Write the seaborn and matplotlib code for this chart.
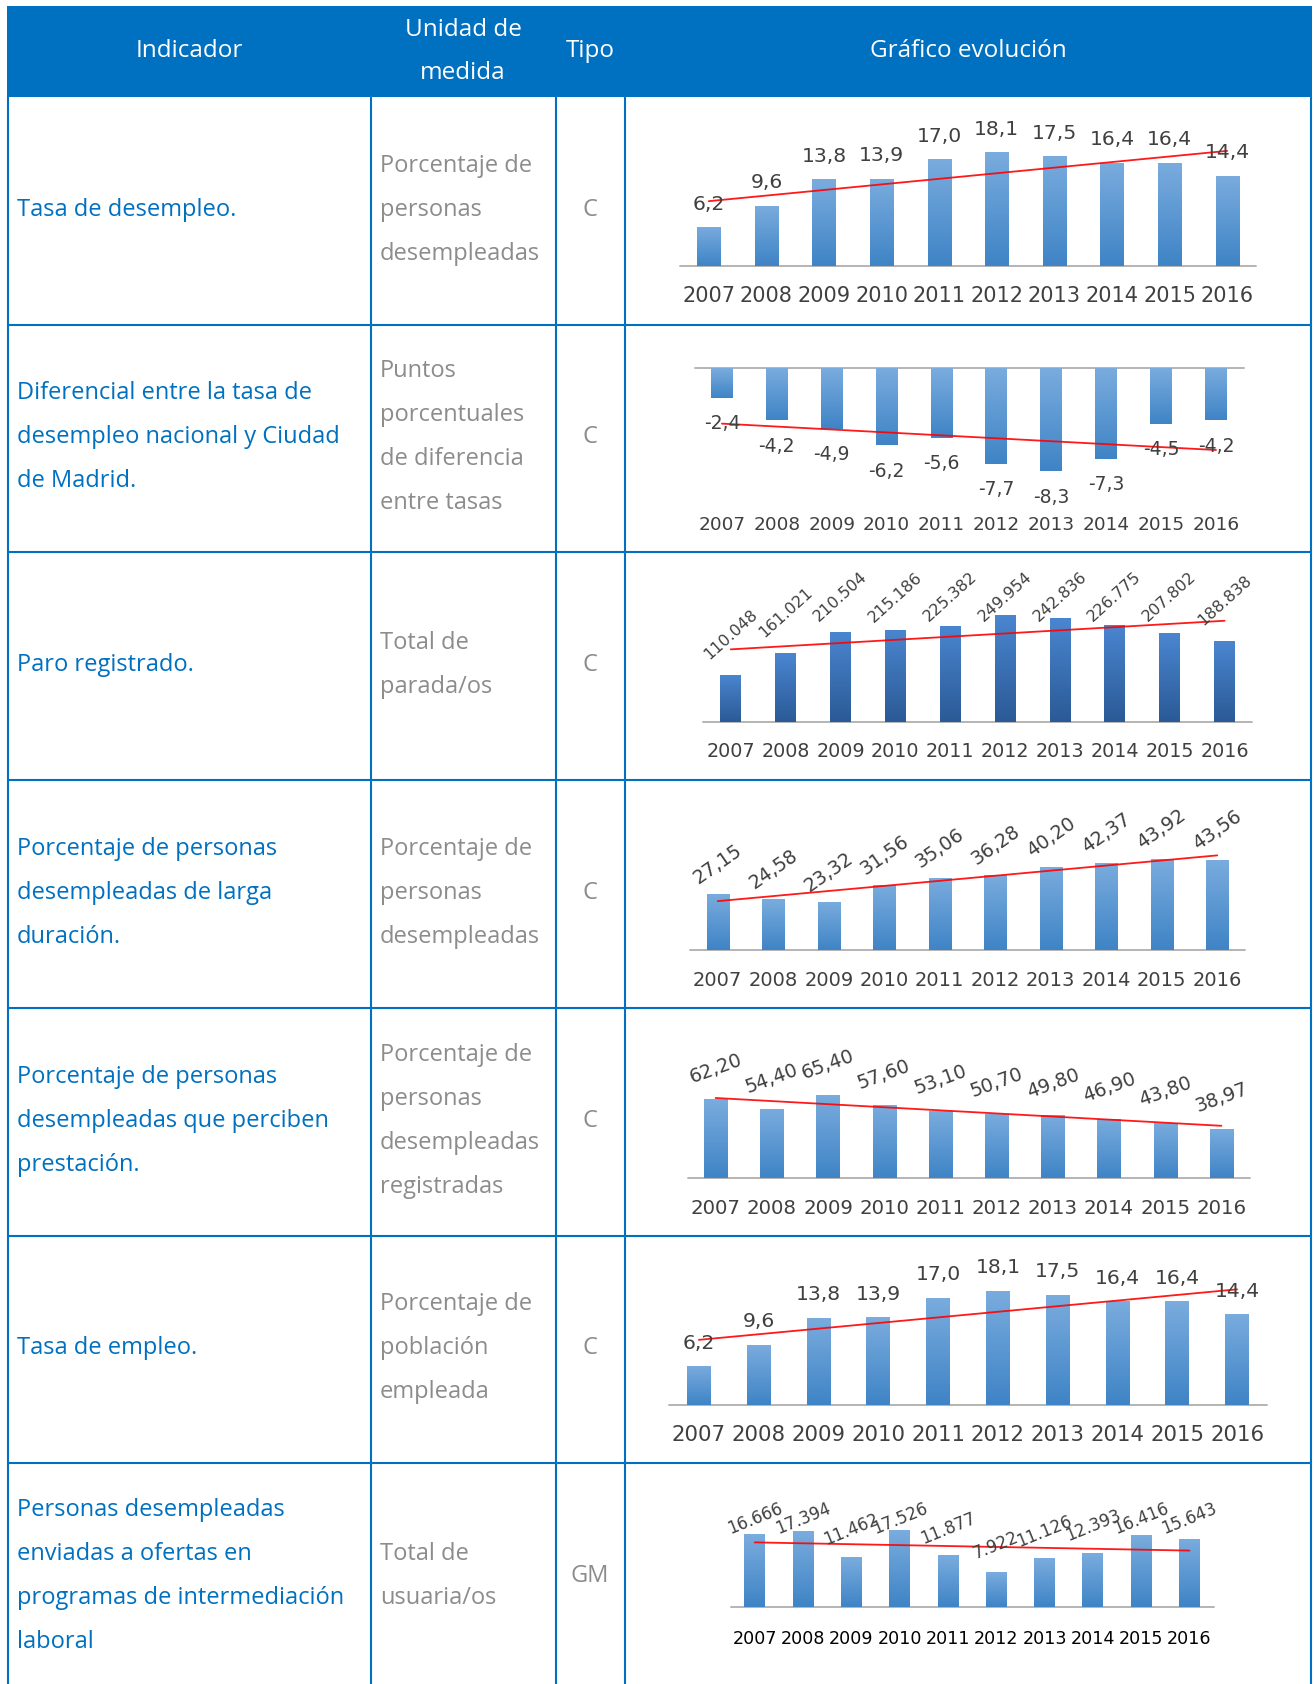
import numpy as np
import matplotlib
matplotlib.use("Agg")
import matplotlib.pyplot as plt
import seaborn as sns
from matplotlib.patches import Rectangle
from matplotlib.lines import Line2D

W, H = 1314, 1684

years = [2007, 2008, 2009, 2010, 2011, 2012, 2013, 2014, 2015, 2016]

tasa_desempleo = [6.2, 9.6, 13.8, 13.9, 17.0, 18.1, 17.5, 16.4, 16.4, 14.4]
diferencial = [-2.4, -4.2, -4.9, -6.2, -5.6, -7.7, -8.3, -7.3, -4.5, -4.2]
paro_registrado = [110048, 161021, 210504, 215186, 225382, 249954, 242836, 226775, 207802, 188838]
larga_duracion = [27.15, 24.58, 23.32, 31.56, 35.06, 36.28, 40.20, 42.37, 43.92, 43.56]
prestacion = [62.20, 54.40, 65.40, 57.60, 53.10, 50.70, 49.80, 46.90, 43.80, 38.97]
tasa_empleo = [6.2, 9.6, 13.8, 13.9, 17.0, 18.1, 17.5, 16.4, 16.4, 14.4]
enviadas = [16666, 17394, 11462, 17526, 11877, 7922, 11126, 12393, 16416, 15643]

header = ["Indicador", ["Unidad de", "medida"], "Tipo", "Gráfico evolución"]

indicadores = [
    ["Tasa de desempleo."],
    ["Diferencial entre la tasa de", "desempleo nacional y Ciudad", "de Madrid."],
    ["Paro registrado."],
    ["Porcentaje de personas", "desempleadas de larga", "duración."],
    ["Porcentaje de personas", "desempleadas que perciben", "prestación."],
    ["Tasa de empleo."],
    ["Personas desempleadas", "enviadas a ofertas en", "programas de intermediación", "laboral"],
]
unidades = [
    ["Porcentaje de", "personas", "desempleadas"],
    ["Puntos", "porcentuales", "de diferencia", "entre tasas"],
    ["Total de", "parada/os"],
    ["Porcentaje de", "personas", "desempleadas"],
    ["Porcentaje de", "personas", "desempleadas", "registradas"],
    ["Porcentaje de", "población", "empleada"],
    ["Total de", "usuaria/os"],
]
tipos = ["C", "C", "C", "C", "C", "C", "GM"]


def dec(nd):
    return lambda v: f"{v:.{nd}f}".replace(".", ",")


def miles(v):
    return f"{v:,}".replace(",", ".")


BLUE = "#0070c0"
GRAY = "#8c8c8c"
TXT = "#404040"
TFONT = ["Open Sans", "DejaVu Sans"]
LIGHT = ("#7aacde", "#3f84c6")
DARK = ("#4a86d0", "#2b5a96")

sns.set_style("white")
plt.rcParams["font.family"] = ["DejaVu Sans"]

fig = plt.figure(figsize=(W / 100, H / 100), dpi=100)


def fx(x):
    return x / W


def fy(y):
    return 1 - y / H


# ---- table frame ----
fig.patches.append(Rectangle((fx(6.5), fy(96.7)), fx(1311.5) - fx(6.5), fy(5.5) - fy(96.7),
                             transform=fig.transFigure, facecolor=BLUE, edgecolor="none"))
row_tops = [96.7, 324.5, 552.2, 780.0, 1007.8, 1235.6, 1463.3]
row_h = 227.8
for yt in row_tops[1:]:
    fig.add_artist(Line2D([fx(7.5), fx(1311)], [fy(yt), fy(yt)], color=BLUE, lw=1.5))
for xc in [7.5, 370.7, 555.5, 625.3, 1311]:
    fig.add_artist(Line2D([fx(xc), fx(xc)], [fy(96.7), fy(H)], color=BLUE, lw=1.5))

# header text
HFS = 17.5
fig.text(fx(189), fy(51), header[0], ha="center", va="center", color="white", fontsize=HFS, family=TFONT)
fig.text(fx(463), fy(30), header[1][0], ha="center", va="center", color="white", fontsize=HFS, family=TFONT)
fig.text(fx(463), fy(73), header[1][1], ha="center", va="center", color="white", fontsize=HFS, family=TFONT)
fig.text(fx(590), fy(51), header[2], ha="center", va="center", color="white", fontsize=HFS, family=TFONT)
fig.text(fx(968), fy(51), header[3], ha="center", va="center", color="white", fontsize=HFS, family=TFONT)

LS = 44
BFS = 17
for r, yt in enumerate(row_tops):
    yc = yt + row_h / 2 - 1
    for lines, x, col in [(indicadores[r], 17, BLUE), (unidades[r], 380, GRAY)]:
        n = len(lines)
        for i, s in enumerate(lines):
            fig.text(fx(x), fy(yc + (i - (n - 1) / 2) * LS), s, ha="left", va="center",
                     color=col, fontsize=BFS, family=TFONT)
    fig.text(fx(590), fy(yc), tipos[r], ha="center", va="center", color=GRAY, fontsize=BFS, family=TFONT)


# ---- mini charts ----
def mini_chart(values, fmt, x0, slot, base, scale, top, bottom, width, rot, off, cap,
               fs, year_fs, year_y, grad, year_color=TXT):
    n = len(values)
    ax = fig.add_axes([fx(x0), fy(bottom), n * slot / W, (bottom - top) / H])
    ax.set_facecolor("none")
    sns.barplot(x=years, y=values, color=grad[0], width=width, saturation=1, ax=ax)
    cols = np.linspace(matplotlib.colors.to_rgb(grad[0]), matplotlib.colors.to_rgb(grad[1]), 64)[:, None, :]
    for p in list(ax.patches):
        x, w = p.get_x(), p.get_width()
        y0, y1 = sorted([p.get_y(), p.get_y() + p.get_height()])
        im = ax.imshow(cols, extent=[x, x + w, y0, y1], aspect="auto", zorder=2)
        im.set_clip_path(p)
        p.set_facecolor("none")
        p.set_edgecolor("none")
    sns.regplot(x=np.arange(n), y=np.array(values, float), scatter=False, ci=None, truncate=True,
                color="red", line_kws={"lw": 1.3, "alpha": 0.9, "zorder": 3}, ax=ax)
    ax.axhline(0, color="#b4b4b4", lw=1.4, zorder=1, clip_on=False)
    for i, v in enumerate(values):
        yl = v + off / scale
        if cap is not None:
            yl = min(yl, (base - cap) / scale)
        ax.text(i, yl, fmt(v), ha="center", va="center", rotation=rot, rotation_mode="anchor",
                fontsize=fs, color=TXT, clip_on=False, zorder=4)
    ax.set_xlim(-0.5, n - 0.5)
    ax.set_ylim((base - bottom) / scale, (base - top) / scale)
    ax.set_yticks([])
    ax.set_xticks(range(n), [str(y) for y in years])
    pad_px = year_y - bottom - 0.4 * year_fs * 100 / 72
    ax.tick_params(axis="x", length=0, pad=pad_px * 72 / 100, labelsize=year_fs, labelcolor=year_color)
    ax.set(xlabel="", ylabel="")
    sns.despine(ax=ax, left=True, bottom=True)


mini_chart(tasa_desempleo, dec(1), 680, 57.6, 266.3, 6.3, 102, 266.3, 0.40, 0, 23, None, 14.7, 15, 294.7, LIGHT)
mini_chart(diferencial, dec(1), 694.5, 54.9, 367.7, 12.5, 367.7, 505, 0.40, 0, -26, None, 13.5, 13.3, 523.3, LIGHT)
mini_chart(paro_registrado, miles, 703.3, 54.87, 722.3, 0.000428, 558, 722.3, 0.38, 42, 41, 597, 11.5, 13.8, 749.7, DARK)
mini_chart(larga_duracion, dec(2), 690, 55.5, 950.3, 2.07, 786, 950.3, 0.40, 35, 30, 829, 13.8, 14, 978.7, LIGHT)
mini_chart(prestacion, dec(2), 687.5, 56.2, 1178.3, 1.27, 1014, 1178.3, 0.41, 20, 31, None, 13.8, 14.2, 1206.7, LIGHT)
mini_chart(tasa_empleo, dec(1), 669, 59.8, 1405.3, 6.33, 1241, 1405.3, 0.40, 0, 23, None, 14.7, 15.3, 1433.7, LIGHT)
mini_chart(enviadas, miles, 730.6, 48.3, 1606.7, 0.00435, 1469, 1606.7, 0.43, 22, 27, 1519, 12, 12.6, 1636.7, LIGHT,
           year_color="black")

fig.savefig("out.png", dpi=100)
